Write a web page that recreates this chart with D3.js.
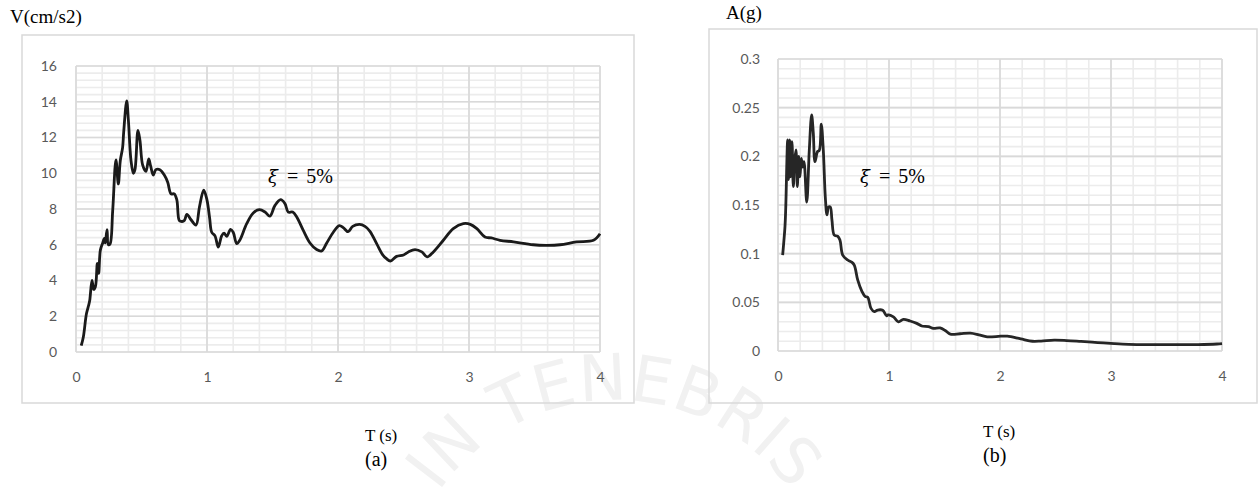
<!DOCTYPE html>
<html>
<head>
<meta charset="utf-8">
<script src="https://cdn.jsdelivr.net/npm/d3@7"></script>
<style>
  body { margin: 0; background: #fff; }
  svg { display: block; }
</style>
</head>
<body>
<script>
// spectrum (a): velocity vs period
const periodsA = [0.04,0.056,0.08,0.096,0.105,0.122,0.135,0.148,0.163,0.173,0.186,0.204,0.216,0.223,0.237,0.247,0.26,0.28,0.305,0.323,0.338,0.356,0.364,0.387,0.4,0.42,0.438,0.45,0.473,0.488,0.509,0.534,0.555,0.57,0.59,0.61,0.64,0.674,0.70,0.725,0.75,0.77,0.789,0.81,0.827,0.847,0.878,0.916,0.942,0.975,1.0,1.02,1.036,1.061,1.086,1.112,1.13,1.15,1.18,1.2,1.227,1.25,1.303,1.353,1.40,1.443,1.48,1.519,1.562,1.595,1.62,1.654,1.685,1.735,1.786,1.837,1.875,1.914,1.964,2.01,2.04,2.077,2.112,2.165,2.206,2.244,2.295,2.34,2.37,2.40,2.447,2.50,2.537,2.588,2.64,2.68,2.728,2.804,2.88,2.957,3.01,3.06,3.122,3.17,3.237,3.34,3.49,3.59,3.695,3.82,3.95,4.0];
const velocityA = [0.35,0.84,2.15,2.6,2.9,4.0,3.5,3.65,4.95,4.4,5.7,6.1,6.35,6.1,6.85,6.0,6.05,7.9,10.75,9.4,10.7,11.45,12.3,14.05,12.95,10.7,10.0,10.2,12.4,11.85,10.45,10.1,10.8,10.4,9.9,10.2,10.2,9.9,9.5,8.85,8.85,8.5,7.35,7.3,7.35,7.7,7.4,7.1,8.1,9.05,8.5,7.5,6.7,6.5,5.87,6.5,6.65,6.47,6.86,6.7,6.06,6.25,7.18,7.78,7.96,7.83,7.6,8.2,8.52,8.3,7.83,7.83,7.55,6.8,6.1,5.73,5.65,6.1,6.7,7.07,6.96,6.73,7.03,7.14,7.03,6.75,6.06,5.45,5.22,5.09,5.35,5.43,5.6,5.73,5.6,5.32,5.6,6.25,6.9,7.18,7.14,6.9,6.43,6.38,6.25,6.16,6.0,5.97,6.0,6.16,6.25,6.62];
const xTicksA = [0, 1, 2, 3, 4];
const yTicksA = [0, 2, 4, 6, 8, 10, 12, 14, 16];

// spectrum (b): acceleration vs period
const periodsB = [0.042,0.063,0.07,0.087,0.095,0.105,0.113,0.126,0.138,0.15,0.162,0.174,0.186,0.198,0.21,0.222,0.234,0.259,0.282,0.303,0.318,0.333,0.357,0.372,0.39,0.408,0.426,0.441,0.456,0.471,0.486,0.507,0.537,0.558,0.583,0.628,0.667,0.688,0.718,0.757,0.787,0.808,0.838,0.868,0.898,0.943,0.979,0.99,1.04,1.085,1.13,1.19,1.25,1.295,1.355,1.40,1.46,1.51,1.553,1.64,1.734,1.81,1.885,2.006,2.066,2.187,2.292,2.37,2.488,2.6,2.73,2.88,3.03,3.16,3.333,3.6,3.786,3.955,4.0];
const accelB = [0.0986,0.128,0.148,0.217,0.176,0.217,0.179,0.215,0.169,0.196,0.2065,0.169,0.2,0.179,0.198,0.189,0.1945,0.153,0.2065,0.2425,0.224,0.1945,0.205,0.206,0.233,0.2065,0.1585,0.14,0.148,0.148,0.1346,0.119,0.118,0.114,0.0986,0.0935,0.091,0.088,0.073,0.061,0.0558,0.0553,0.0438,0.0404,0.0421,0.0418,0.036,0.037,0.035,0.030,0.0325,0.0308,0.0284,0.0257,0.025,0.0233,0.0237,0.0208,0.0173,0.0177,0.0183,0.0166,0.0145,0.0152,0.0152,0.0124,0.010,0.0102,0.0111,0.0107,0.0098,0.0087,0.0076,0.0069,0.0066,0.0066,0.0066,0.0072,0.0076];
const xTicksB = [0, 1, 2, 3, 4];
const yTicksB = [0, 0.05, 0.1, 0.15, 0.2, 0.25, 0.3];

const svg = d3.select(document.body).append('svg')
  .attr('width', 1259)
  .attr('height', 489);

// faint seal watermark behind everything
const wm = svg.append('g');
wm.append('path')
  .attr('id', 'sealArc')
  .attr('d', 'M 400,615 A 215 215 0 0 1 830,615')
  .attr('fill', 'none');
wm.append('text')
  .attr('font-family', 'DejaVu Sans, sans-serif')
  .attr('font-size', 64)
  .attr('fill', '#f1f1f1')
  .attr('letter-spacing', 1)
  .append('textPath')
  .attr('href', '#sealArc')
  .attr('startOffset', '50%')
  .attr('text-anchor', 'middle')
  .text('IN TENEBRIS');

function drawChart(cfg) {
  const g = svg.append('g');

  g.append('rect')
    .attr('x', cfg.box[0]).attr('y', cfg.box[1])
    .attr('width', cfg.box[2]).attr('height', cfg.box[3])
    .attr('fill', 'none').attr('stroke', '#d9d9d9').attr('stroke-width', 1.5);

  const x = d3.scaleLinear().domain([0, 4]).range([cfg.left, cfg.right]);
  const y = d3.scaleLinear().domain([0, cfg.ymax]).range([cfg.bottom, cfg.top]);

  // minor gridlines
  const minorX = d3.range(0, 4.0001, 0.2);
  const minorY = d3.range(0, cfg.ymax + 1e-9, cfg.minor);
  g.append('g').selectAll('line').data(minorX).join('line')
    .attr('x1', d => x(d)).attr('x2', d => x(d))
    .attr('y1', cfg.top).attr('y2', cfg.bottom)
    .attr('stroke', '#ececec').attr('stroke-width', 1.6);
  g.append('g').selectAll('line').data(minorY).join('line')
    .attr('x1', cfg.left).attr('x2', cfg.right)
    .attr('y1', d => y(d)).attr('y2', d => y(d))
    .attr('stroke', '#ececec').attr('stroke-width', 1.6);

  // major gridlines
  g.append('g').selectAll('line').data(cfg.xTicks).join('line')
    .attr('x1', d => x(d)).attr('x2', d => x(d))
    .attr('y1', cfg.top).attr('y2', cfg.bottom)
    .attr('stroke', '#d9d9d9').attr('stroke-width', 1.6);
  g.append('g').selectAll('line').data(cfg.yTicks).join('line')
    .attr('x1', cfg.left).attr('x2', cfg.right)
    .attr('y1', d => y(d)).attr('y2', d => y(d))
    .attr('stroke', '#d9d9d9').attr('stroke-width', 1.6);

  // axes (labels only)
  const fmt = d => String(+d.toFixed(2));
  const ax = g.append('g')
    .attr('transform', `translate(0,${cfg.bottom})`)
    .call(d3.axisBottom(x).tickValues(cfg.xTicks).tickFormat(fmt).tickSize(0).tickPadding(cfg.xPad));
  const ay = g.append('g')
    .attr('transform', `translate(${cfg.left},0)`)
    .call(d3.axisLeft(y).tickValues(cfg.yTicks).tickFormat(fmt).tickSize(0).tickPadding(cfg.yPad));
  [ax, ay].forEach(a => {
    a.select('.domain').remove();
    a.selectAll('text')
      .attr('font-family', 'Lato, Open Sans, sans-serif')
      .attr('font-size', 14)
      .attr('fill', '#595959');
  });

  const line = d3.line()
    .x(d => x(d[0])).y(d => y(d[1]))
    .curve(d3.curveCatmullRom.alpha(0.5));
  g.append('path')
    .datum(d3.zip(cfg.xs, cfg.ys))
    .attr('d', line)
    .attr('fill', 'none')
    .attr('stroke', cfg.color)
    .attr('stroke-width', 2.8)
    .attr('stroke-linejoin', 'round');

  // y-axis title
  g.append('text')
    .attr('x', cfg.yTitle[0]).attr('y', cfg.yTitle[1])
    .attr('font-family', 'Liberation Serif, serif')
    .attr('font-size', 19)
    .attr('fill', '#000')
    .text(cfg.yLabel);

  // damping label
  const xi = g.append('text')
    .attr('x', cfg.xi[0]).attr('y', cfg.xi[1])
    .attr('font-family', 'Liberation Serif, serif')
    .attr('font-size', 20)
    .attr('fill', '#000');
  xi.append('tspan').attr('font-family', 'DejaVu Serif, serif').attr('font-style', 'italic').attr('font-size', 18).text('ξ');
  xi.append('tspan').attr('dx', 9).text('=');
  xi.append('tspan').attr('dx', 8).text('5%');

  // x-axis title and panel tag
  g.append('text')
    .attr('x', cfg.xTitle[0]).attr('y', cfg.xTitle[1])
    .attr('font-family', 'Liberation Serif, serif')
    .attr('font-size', 17)
    .text('T (s)');
  g.append('text')
    .attr('x', cfg.xTitle[0]).attr('y', cfg.xTitle[1] + 25)
    .attr('font-family', 'Liberation Serif, serif')
    .attr('font-size', 20)
    .text(cfg.tag);
}

drawChart({
  box: [22, 35, 612, 368],
  left: 76, right: 600, top: 66, bottom: 352,
  ymax: 16, minor: 0.4,
  xTicks: xTicksA, yTicks: yTicksA,
  xPad: 20, yPad: 19,
  xs: periodsA, ys: velocityA, color: '#1a1a1a',
  yLabel: 'V(cm/s2)', yTitle: [10, 23],
  xi: [268, 183],
  xTitle: [365, 441], tag: '(a)'
});

drawChart({
  box: [709, 29, 548, 374],
  left: 778, right: 1222, top: 59, bottom: 351,
  ymax: 0.3, minor: 0.01,
  xTicks: xTicksB, yTicks: yTicksB,
  xPad: 20, yPad: 18,
  xs: periodsB, ys: accelB, color: '#262626',
  yLabel: 'A(g)', yTitle: [726, 19],
  xi: [860, 183],
  xTitle: [983, 437], tag: '(b)'
});
</script>
</body>
</html>
